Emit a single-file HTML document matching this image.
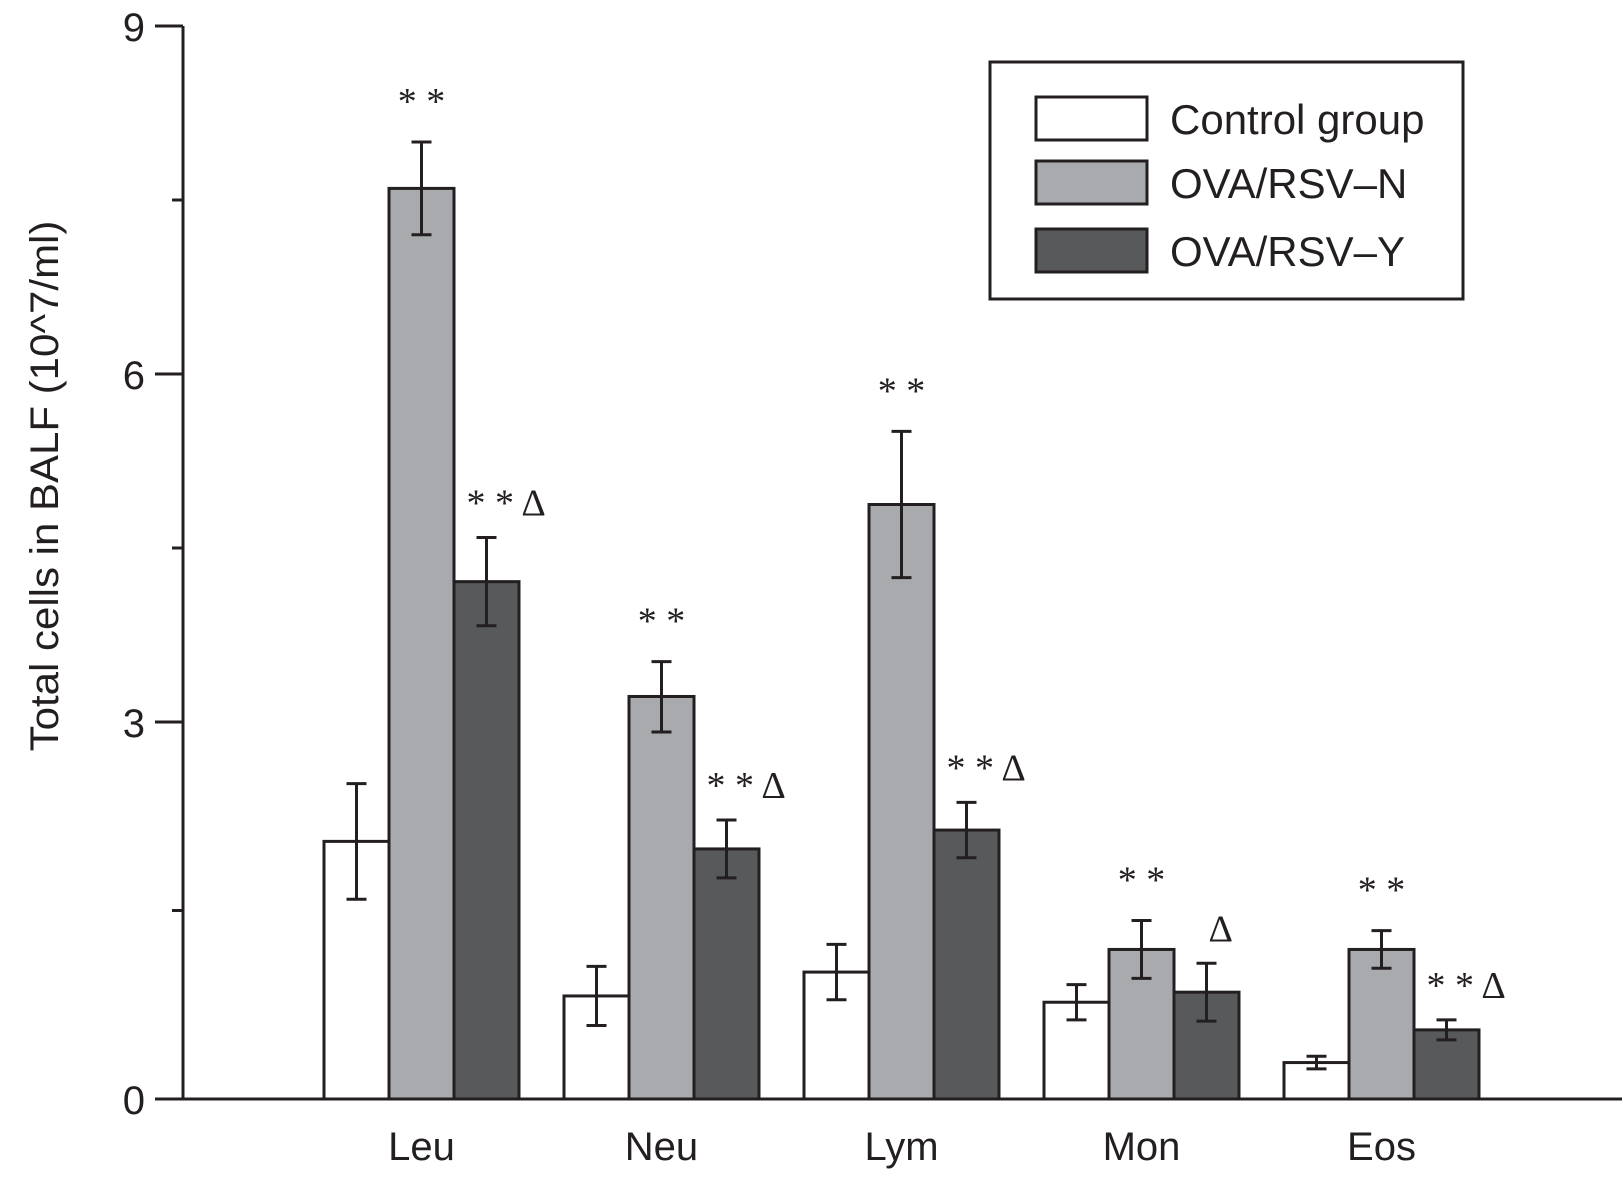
<!DOCTYPE html>
<html><head><meta charset="utf-8"><style>
html,body{margin:0;padding:0;background:#fff;}
svg{display:block;font-family:"Liberation Sans",Arial,sans-serif;}
</style></head><body>
<svg id="chart" width="1622" height="1179" viewBox="0 0 1622 1179"></svg>
<script>
const categories = ["Leu","Neu","Lym","Mon","Eos"];
const seriesNames = ["Control group","OVA/RSV\u2013N","OVA/RSV\u2013Y"];
const controlVals = [2.05,0.82,1.01,0.77,0.29];
const controlErr = [0.46,0.235,0.22,0.14,0.05];
const ovaNVals = [7.60,3.22,4.875,1.19,1.19];
const ovaNErr = [0.40,0.30,0.63,0.23,0.15];
const ovaYVals = [4.21,1.99,2.14,0.85,0.55];
const ovaYErr = [0.38,0.23,0.22,0.23,0.08];
const ovaNMarks = ["* *","* *","* *","* *","* *"];
const ovaYMarks = ["* * \u0394","* * \u0394","* * \u0394","\u0394","* * \u0394"];
const majorTicks = [0,3,6,9];
const minorTicks = [1.5,4.5,7.5];

const NS="http://www.w3.org/2000/svg";
const svg=document.getElementById('chart');
const x0=183, y0=1099;
// axis calibration (piecewise, as printed in the original figure)
const axisVals=[0,3,6,9], axisPix=[1099,722,374,26];
function yS(v){
  let i=0; while(i<axisVals.length-2 && v>axisVals[i+1]) i++;
  const t=(v-axisVals[i])/(axisVals[i+1]-axisVals[i]);
  return axisPix[i]+t*(axisPix[i+1]-axisPix[i]);
}
const yTop=yS(9);
const groupStart=i=>324+i*240;
const barW=65;
function mk(t,a,p){const e=document.createElementNS(NS,t);for(const k in a)e.setAttribute(k,a[k]);(p||svg).appendChild(e);return e;}
const fills=["#ffffff","#a9aaad","#58595b"];
const vals=[controlVals,ovaNVals,ovaYVals];
const errs=[controlErr,ovaNErr,ovaYErr];

categories.forEach((c,i)=>{
  for(let s=0;s<3;s++){
    const v=vals[s][i],e=errs[s][i];
    const bx=groupStart(i)+s*barW, cx=bx+barW/2;
    const r=mk('rect',{x:bx,y:yS(v),width:barW,height:y0-yS(v),fill:fills[s],stroke:'#231f20','stroke-width':3});
    
    
    const g=mk('g',{stroke:'#231f20','stroke-width':3});
    
    
    mk('line',{x1:cx,x2:cx,y1:yS(v+e),y2:yS(v-e)},g);
    mk('line',{x1:cx-10,x2:cx+10,y1:yS(v+e),y2:yS(v+e)},g);
    mk('line',{x1:cx-10,x2:cx+10,y1:yS(v-e),y2:yS(v-e)},g);
    if(s===1){
      const t=mk('text',{x:cx,y:yS(v+e)-28,'text-anchor':'middle','font-size':38,fill:'#231f20','font-family':'"Liberation Serif",serif'});
      t.textContent=ovaNMarks[i];
      
      
    }
    if(s===2){
      const m=ovaYMarks[i];
      const t=mk('text',{x:m.length>1?cx-20:cx+2,y:yS(v+e)-22,'font-size':38,fill:'#231f20','font-family':'"Liberation Serif",serif'});
      t.textContent=m;
      
      
    }
  }
  const lt=mk('text',{x:groupStart(i)+barW*1.5,y:1160,'text-anchor':'middle','font-size':40,fill:'#231f20'});
  lt.textContent=c;
  
  
});

const ax=mk('g',{stroke:'#231f20','stroke-width':3});


mk('line',{x1:x0,x2:x0,y1:yTop,y2:y0},ax);
mk('line',{x1:x0,x2:1622,y1:y0,y2:y0},ax);
majorTicks.forEach(v=>{
  mk('line',{x1:155,x2:x0,y1:yS(v),y2:yS(v)},ax);
  const t=mk('text',{x:145,y:yS(v)+15,'text-anchor':'end','font-size':40,fill:'#231f20'});
  t.textContent=v;
  
  
});
minorTicks.forEach(v=>{mk('line',{x1:172,x2:x0,y1:yS(v),y2:yS(v)},ax);});
const yt=mk('text',{x:0,y:0,'text-anchor':'middle','font-size':40,fill:'#231f20',transform:'translate(58,486) rotate(-90) scale(1.05,1)'});
yt.textContent='Total cells in BALF (10^7/ml)';



const lg=mk('g',{});


mk('rect',{x:990,y:62,width:473,height:237,fill:'#fff',stroke:'#231f20','stroke-width':3},lg);
const ly=[97,161,229];
seriesNames.forEach((n,s)=>{
  const e=mk('g',{},lg);
  
  
  mk('rect',{x:1036,y:ly[s],width:111,height:43,fill:fills[s],stroke:'#231f20','stroke-width':3},e);
  const t=mk('text',{x:1170,y:ly[s]+37,'font-size':42,fill:'#231f20'},e);
  t.textContent=n;
});
</script>
</body></html>
